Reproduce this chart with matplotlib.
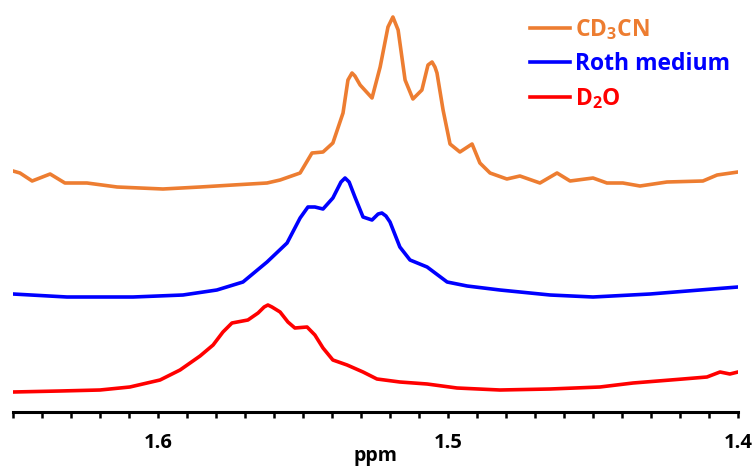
import matplotlib
matplotlib.use("Agg")
import matplotlib.pyplot as plt

plt.rcParams['font.family'] = ['Open Sans', 'DejaVu Sans']
plt.rcParams['font.weight'] = 'bold'
plt.rcParams['mathtext.fontset'] = 'custom'
plt.rcParams['mathtext.rm'] = 'Open Sans:bold'
plt.rcParams['mathtext.default'] = 'rm'

# ================= DATA =================
# chemical shift (ppm) and intensity (a.u.)
ppm_d2o = [1.6500, 1.6338, 1.6200, 1.6097, 1.5993, 1.5924, 1.5855, 1.5810, 1.5776,
           1.5745, 1.5690, 1.5655, 1.5634, 1.5621, 1.5607, 1.5579, 1.5552, 1.5528,
           1.5486, 1.5459, 1.5431, 1.5397, 1.5348, 1.5293, 1.5245, 1.5166, 1.5072,
           1.4969, 1.4821, 1.4648, 1.4476, 1.4362, 1.4190, 1.4107, 1.4062, 1.4028,
           1.4000]
int_d2o = [0, 1, 2, 5, 12, 22, 36, 47, 60,
           69, 72, 79, 85, 87, 85, 80, 70, 64,
           65, 57, 44, 32, 27, 20, 13, 10, 8,
           4, 2, 3, 5, 9, 13, 15, 20, 18,
           20]

ppm_roth = [1.6500, 1.6314, 1.6086, 1.5914, 1.5797, 1.5707, 1.5624, 1.5555, 1.5510,
            1.5483, 1.5459, 1.5431, 1.5397, 1.5369, 1.5355, 1.5341, 1.5321, 1.5293,
            1.5262, 1.5241, 1.5228, 1.5214, 1.5200, 1.5166, 1.5131, 1.5072, 1.5003,
            1.4934, 1.4821, 1.4648, 1.4500, 1.4303, 1.4131, 1.4000]
int_roth = [3, 0, 0, 2, 7, 15, 35, 54, 79,
            90, 90, 88, 99, 115, 119, 115, 100, 80,
            77, 83, 84, 81, 75, 50, 37, 30, 15,
            11, 7, 2, 0, 3, 7, 10]

ppm_cd3cn = [1.6500, 1.6476, 1.6434, 1.6372, 1.6321, 1.6245, 1.6141, 1.5983, 1.5855,
             1.5741, 1.5624, 1.5579, 1.5510, 1.5469, 1.5431, 1.5397, 1.5362, 1.5345,
             1.5331, 1.5321, 1.5303, 1.5262, 1.5234, 1.5207, 1.5190, 1.5172, 1.5148,
             1.5121, 1.5090, 1.5069, 1.5055, 1.5045, 1.5038, 1.5017, 1.4993, 1.4959,
             1.4917, 1.4890, 1.4855, 1.4797, 1.4752, 1.4683, 1.4624, 1.4579, 1.4500,
             1.4452, 1.4397, 1.4338, 1.4245, 1.4121, 1.4072, 1.4000]
int_cd3cn = [19, 17, 9, 16, 7, 7, 3, 1, 3,
             5, 7, 10, 17, 37, 38, 47, 77, 110,
             117, 114, 105, 92, 123, 163, 173, 160, 110,
             91, 100, 125, 128, 123, 117, 80, 46, 38,
             46, 27, 17, 11, 14, 7, 17, 9, 12,
             7, 7, 4, 8, 9, 15, 18]

labels = ["CD$_3$CN", "Roth medium", "D$_2$O"]
colors = ["#ED7D31", "#0000FF", "#FF0000"]
offsets = [222, 115, 20]   # vertical stacking of the traces

# ================= PLOT =================
fig = plt.figure(figsize=(7.56, 4.68), dpi=100)
ax = fig.add_axes([13 / 756, 1 - 412 / 468, 725 / 756, 412 / 468])

series = [(ppm_cd3cn, int_cd3cn), (ppm_roth, int_roth), (ppm_d2o, int_d2o)]
for (x, y), lab, col, off in zip(series, labels, colors, offsets):
    ax.plot(x, [v + off for v in y], color=col, lw=2.6, label=lab,
            solid_joinstyle='round')

ax.set_xlim(1.65, 1.40)
ax.set_ylim(0, 412)
ax.set_xticks([1.6, 1.5, 1.4])
ax.set_xticklabels(["1.6", "1.5", "1.4"])
ax.set_xticks([1.65 - 0.01 * i for i in range(26)], minor=True)
ax.tick_params(axis='x', which='both', direction='out', length=4, width=1.8,
               labelsize=14.5, pad=11)
ax.set_yticks([])
for s in ("left", "right", "top"):
    ax.spines[s].set_visible(False)
ax.spines["bottom"].set_linewidth(2.2)
ax.set_xlabel("ppm", fontsize=14, fontweight='bold', labelpad=-5)

leg = ax.legend(loc='upper left', bbox_to_anchor=(530 / 756, 1 - 17 / 468),
                bbox_transform=fig.transFigure, frameon=False, borderpad=0,
                borderaxespad=0, handlelength=1.75, handletextpad=0.2,
                labelspacing=0.45, prop={'weight': 'bold', 'size': 16.5},
                labelcolor='linecolor')

plt.savefig("out.png", dpi=100)
plt.close()
